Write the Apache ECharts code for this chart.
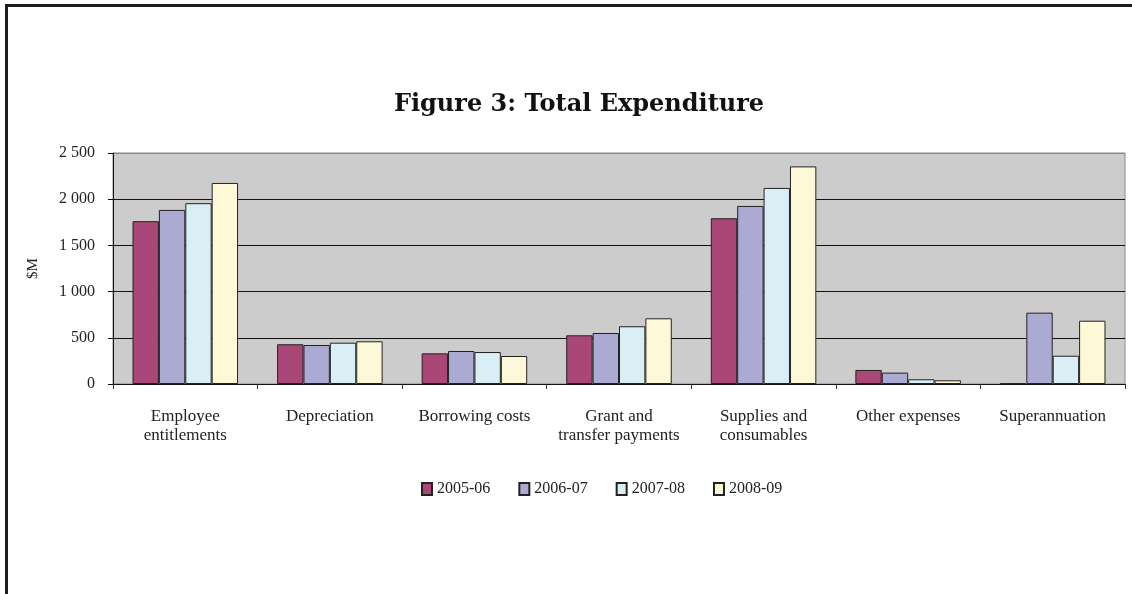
<!DOCTYPE html>
<html>
<head>
<meta charset="utf-8">
<title>Figure 3: Total Expenditure</title>
<script src="https://cdn.jsdelivr.net/npm/echarts@6/dist/echarts.min.js"></script>
<style>
  html, body { margin: 0; padding: 0; background: #fff; }
  #frame {
    position: absolute; left: 5px; top: 4px; width: 1200px; height: 700px;
    border-left: 3px solid #1c1c1c; border-top: 3px solid #1c1c1c;
    box-sizing: border-box;
  }
  #chart { position: absolute; left: 0; top: 0; width: 1132px; height: 594px; }
</style>
</head>
<body>
<div id="frame"></div>
<div id="chart"></div>
<script>
// Expenditure categories and yearly totals, $M
const categories = [
  'Employee\nentitlements',
  'Depreciation',
  'Borrowing costs',
  'Grant and\ntransfer payments',
  'Supplies and\nconsumables',
  'Other expenses',
  'Superannuation'
];
const years = ['2005-06', '2006-07', '2007-08', '2008-09'];
const values2005 = [1762, 430, 332, 527, 1794, 152, 8];
const values2006 = [1884, 422, 357, 552, 1927, 123, 772];
const values2007 = [1957, 447, 346, 625, 2122, 51, 306];
const values2008 = [2176, 462, 303, 711, 2355, 40, 685];
const yTicks = { min: 0, max: 2500, interval: 500 };

const colors = ['#a94777', '#aaaad2', '#daeef5', '#fdf9d8'];
const seriesValues = [values2005, values2006, values2007, values2008];
const serif = '"Liberation Serif", "DejaVu Serif", serif';

const chart = echarts.init(document.getElementById('chart'), null, { renderer: 'canvas' });

chart.setOption({
  animation: false,
  textStyle: { fontFamily: serif },
  title: {
    text: 'Figure 3: Total Expenditure',
    left: 574, textAlign: 'center', top: 88,
    textStyle: { fontFamily: '"DejaVu Serif", serif', fontWeight: 'bold', fontSize: 24, color: '#111' }
  },
  grid: {
    left: 113, right: 7, top: 153, bottom: 210,
    show: true, backgroundColor: '#cccccc', borderColor: '#888', borderWidth: 1
  },
  legend: {
    data: years,
    bottom: 92, left: 416,
    icon: 'rect', itemWidth: 10, itemHeight: 12, itemGap: 28,
    textStyle: { fontFamily: serif, fontSize: 16, color: '#222' }
  },
  xAxis: {
    type: 'category',
    data: categories,
    axisLine: { lineStyle: { color: '#111', width: 1 } },
    axisTick: { show: true, length: 5, alignWithLabel: false, lineStyle: { color: '#333' } },
    axisLabel: {
      interval: 0, margin: 23, fontFamily: serif, fontSize: 17, color: '#222', lineHeight: 19
    }
  },
  yAxis: {
    type: 'value',
    min: yTicks.min, max: yTicks.max, interval: yTicks.interval,
    name: '$M', nameLocation: 'middle', nameGap: 72, nameRotate: 90,
    nameTextStyle: { fontFamily: serif, fontSize: 15, color: '#222' },
    axisLine: { show: true, lineStyle: { color: '#111', width: 1 } },
    axisTick: { show: true, length: 5, inside: false, lineStyle: { color: '#111' } },
    axisLabel: {
      margin: 18, fontFamily: serif, fontSize: 16, color: '#222',
      formatter: v => String(v).replace(/\B(?=(\d{3})+(?!\d))/g, ' ')
    },
    splitLine: {
      show: true,
      lineStyle: { color: ['#111', '#111', '#111', '#111', '#111', '#888'], width: 1 }
    }
  },
  series: years.map((y, i) => ({
    name: y,
    type: 'bar',
    data: seriesValues[i],
    barGap: '0%',
    barCategoryGap: '27%',
    itemStyle: { color: colors[i], borderColor: '#222', borderWidth: 1 }
  }))
});
</script>
</body>
</html>
